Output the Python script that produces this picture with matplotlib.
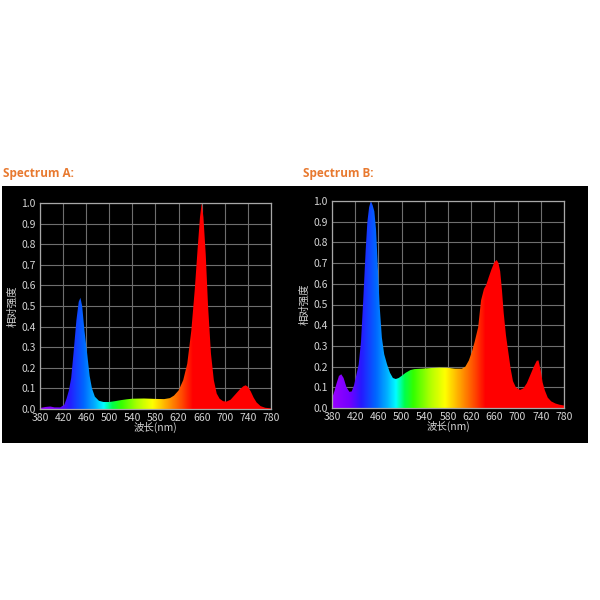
import numpy as np
import matplotlib
matplotlib.use("Agg")
import matplotlib.pyplot as plt
from matplotlib.colors import LinearSegmentedColormap
from matplotlib.patches import Rectangle

plt.rcParams['font.family'] = ['Noto Sans CJK SC', 'DejaVu Sans']

# ---------------- data ----------------
wl_a = [380, 390, 398, 405, 415, 422, 426, 430, 434, 438, 443, 447, 450, 453, 457, 462, 466, 470, 475,
        482, 490, 500, 510, 520, 530, 540, 560, 580, 595, 605, 612, 620, 628, 635, 642, 648, 653, 657,
        660, 663, 667, 671, 676, 681, 686, 691, 697, 703, 710, 718, 726, 732, 736, 740, 745, 750, 755,
        762, 770, 780]
val_a = [0.005, 0.010, 0.012, 0.008, 0.008, 0.020, 0.050, 0.090, 0.150, 0.270, 0.430, 0.520, 0.540,
         0.500, 0.380, 0.260, 0.160, 0.100, 0.060, 0.040, 0.034, 0.034, 0.038, 0.043, 0.047, 0.050,
         0.051, 0.049, 0.048, 0.053, 0.065, 0.090, 0.140, 0.220, 0.380, 0.580, 0.780, 0.930, 1.000,
         0.930, 0.750, 0.500, 0.270, 0.140, 0.075, 0.050, 0.038, 0.036, 0.045, 0.070, 0.095, 0.110,
         0.115, 0.108, 0.085, 0.055, 0.032, 0.014, 0.006, 0.003]

wl_b = [380, 384, 388, 392, 396, 400, 405, 410, 414, 418, 422, 426, 430, 434, 438, 441, 444, 447, 450,
        453, 456, 459, 462, 466, 470, 475, 480, 485, 490, 495, 500, 507, 515, 522, 535, 550, 565, 580,
        592, 604, 610, 616, 621, 626, 632, 637, 642, 646, 650, 655, 660, 664, 667, 670, 673, 676, 680,
        684, 688, 692, 697, 704, 710, 716, 722, 728, 733, 736, 740, 743, 747, 752, 758, 765, 772, 780]
val_b = [0.045, 0.080, 0.120, 0.155, 0.163, 0.145, 0.100, 0.078, 0.080, 0.110, 0.160, 0.210, 0.320,
         0.530, 0.760, 0.900, 0.970, 1.000, 0.980, 0.950, 0.860, 0.680, 0.500, 0.340, 0.260, 0.210,
         0.170, 0.145, 0.140, 0.145, 0.155, 0.170, 0.183, 0.188, 0.190, 0.193, 0.195, 0.194, 0.190,
         0.190, 0.200, 0.230, 0.270, 0.320, 0.390, 0.520, 0.575, 0.595, 0.630, 0.670, 0.705, 0.715,
         0.700, 0.660, 0.570, 0.460, 0.350, 0.270, 0.190, 0.130, 0.100, 0.087, 0.095, 0.120, 0.160,
         0.200, 0.228, 0.230, 0.180, 0.125, 0.085, 0.050, 0.032, 0.022, 0.016, 0.012]

titles = ["Spectrum A:", "Spectrum B:"]
x_ticks = [380, 420, 460, 500, 540, 580, 620, 660, 700, 740, 780]
y_ticks = [0.0, 0.1, 0.2, 0.3, 0.4, 0.5, 0.6, 0.7, 0.8, 0.9, 1.0]
x_label = "波长(nm)"
y_label = "相对强度"

# wavelength colour ramp (style)
stops = [(380, (0.60, 0.00, 1.00)), (410, (0.45, 0.00, 1.00)), (430, (0.15, 0.10, 1.00)),
         (455, (0.00, 0.40, 1.00)), (475, (0.00, 0.70, 1.00)), (490, (0.00, 1.00, 1.00)),
         (505, (0.00, 1.00, 0.30)), (520, (0.20, 1.00, 0.00)), (550, (0.70, 1.00, 0.00)),
         (575, (1.00, 1.00, 0.00)), (600, (1.00, 0.65, 0.00)), (625, (1.00, 0.30, 0.00)),
         (645, (1.00, 0.00, 0.00)), (780, (1.00, 0.00, 0.00))]
cmap = LinearSegmentedColormap.from_list(
    "spec", [((w - 380) / 400, c) for w, c in stops])

fig = plt.figure(figsize=(6, 6), dpi=100)
fig.patch.set_facecolor("white")
bg = Rectangle((2 / 600, 157 / 600), 586 / 600, 257 / 600,
               transform=fig.transFigure, facecolor="black",
               edgecolor="none", zorder=-5)
fig.add_artist(bg)

ax_rects = [(40 / 600, 191 / 600, 231 / 600, 206 / 600),
            (332 / 600, 192 / 600, 232 / 600, 207 / 600)]
title_pos = [(3 / 600, 1 - 173 / 600), (303 / 600, 1 - 173 / 600)]
series = [(wl_a, val_a), (wl_b, val_b)]

grad = np.linspace(380, 780, 800).reshape(1, -1)

for rect, (wl, val), title, tp in zip(ax_rects, series, titles, title_pos):
    ax = fig.add_axes(rect)
    ax.set_zorder(2)
    ax.set_facecolor("black")
    ax.set_xlim(380, 780)
    ax.set_ylim(0, 1.0)
    ax.set_xticks(x_ticks)
    ax.set_yticks(y_ticks)
    ax.set_yticklabels([f"{v:.1f}" for v in y_ticks])
    ax.grid(True, color="#6e6e6e", linewidth=0.8)
    ax.set_axisbelow(True)
    ax.tick_params(length=0, labelsize=7.5, colors="#d4d4d4", pad=3)
    for s in ax.spines.values():
        s.set_color("#a8a8a8")
        s.set_linewidth(0.9)
    im = ax.imshow(grad, extent=[380, 780, 0, 1], aspect="auto", cmap=cmap,
                   vmin=380, vmax=780, origin="lower", zorder=2)
    poly = ax.fill(np.r_[wl, wl[-1], wl[0]], np.r_[val, 0, 0],
                   facecolor="none", edgecolor="none", zorder=2)[0]
    im.set_clip_path(poly)
    ax.set_xlabel(x_label, color="#d4d4d4", fontsize=7.5, labelpad=-1)
    ax.set_ylabel(y_label, color="#d4d4d4", fontsize=7.5, labelpad=3)
    fig.text(tp[0], tp[1], title, color="#e8792f", fontsize=8.5,
             fontweight="bold", family=["Open Sans", "DejaVu Sans"], va="center")

fig.savefig("out.png", dpi=100, facecolor="white")
